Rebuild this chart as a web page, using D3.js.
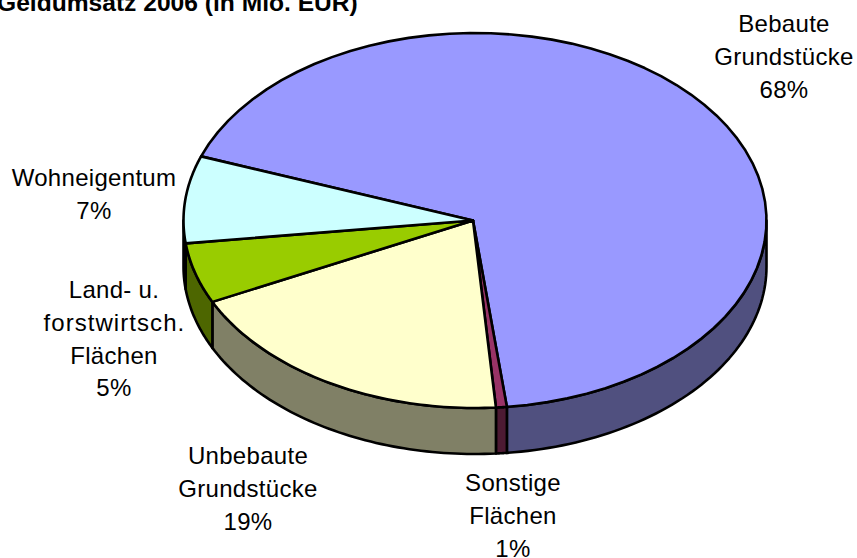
<!DOCTYPE html>
<html>
<head>
<meta charset="utf-8">
<script src="https://cdn.jsdelivr.net/npm/d3@7"></script>
<style>
  html, body { margin: 0; padding: 0; background: #fff; overflow: hidden; }
  text { font-family: "Liberation Sans", Arial, sans-serif; fill: #000; }
</style>
</head>
<body>
<script>
const chartTitle = "Geldumsatz 2006 (in Mio. EUR)";
const categories = ["Bebaute Grundstücke", "Sonstige Flächen", "Unbebaute Grundstücke", "Land- u. forstwirtsch. Flächen", "Wohneigentum"];
const values = [67.7, 0.6, 19, 5.2, 7.5];
const percentLabels = ["68%", "1%", "19%", "5%", "7%"];
const labelLines = [
    ["Bebaute", "Grundstücke"],
    ["Sonstige", "Flächen"],
    ["Unbebaute", "Grundstücke"],
    ["Land- u.", "forstwirtsch.", "Flächen"],
    ["Wohneigentum"]
];
const topColors = ["#9999ff", "#993366", "#ffffcc", "#99cc00", "#ccffff"];
const sideColors = ["#50507f", "#4d1a33", "#808066", "#4d6600", "#668080"];

const width = 857;
const height = 558;
const cx = 475, cy = 220.5, rx = 291.5, ry = 187.5, depth = 46;
const labelPos = [[784, 32], [513, 491], [248, 464], [114, 298], [94, 186]];
const lineGap = 32.8;
const startDeg = 290;

const svg = d3.select("body")
    .append("svg")
    .attr("width", width)
    .attr("height", height);

const pie = d3.pie()
    .sort(null)
    .startAngle(startDeg * Math.PI / 180)
    .endAngle((startDeg + 360) * Math.PI / 180);

const slices = pie(values);

const px = a => cx + rx * Math.sin(a);
const py = a => cy - ry * Math.cos(a);

// points along the rim of the ellipse
const rim = (a0, a1, off) => d3.range(0, 61).map(i => {
    const a = a0 + (a1 - a0) * i / 60;
    return [px(a), py(a) + off];
});

const line = d3.line();

// angles of the front half in all turns the pie passes through
const sideRange = (s) => {
    let out = null;
    [0, 2 * Math.PI].forEach(turn => {
        const a0 = Math.max(s.startAngle, Math.PI / 2 + turn);
        const a1 = Math.min(s.endAngle, 3 * Math.PI / 2 + turn);
        if (a1 > a0) out = [a0, a1];
    });
    return out;
};

const sides = slices.map((s, i) => ({ i: i, r: sideRange(s) })).filter(d => d.r);

svg.selectAll("path.side")
    .data(sides)
    .enter()
    .append("path")
    .attr("class", "side")
    .attr("d", d => line(rim(d.r[0], d.r[1], 0).concat(rim(d.r[1], d.r[0], depth))) + "Z")
    .attr("fill", d => sideColors[d.i])
    .attr("stroke", "#000")
    .attr("stroke-width", 2.6)
    .attr("stroke-linejoin", "round");

svg.selectAll("path.top")
    .data(slices)
    .enter()
    .append("path")
    .attr("class", "top")
    .attr("d", s => line([[cx - 2, cy]].concat(rim(s.startAngle, s.endAngle, 0))) + "Z")
    .attr("fill", (s, i) => topColors[i])
    .attr("stroke", "#000")
    .attr("stroke-width", 2.6)
    .attr("stroke-linejoin", "round");

svg.append("text")
    .attr("x", -3)
    .attr("y", 11)
    .attr("font-size", 24.6)
    .attr("font-weight", "bold")
    .text(chartTitle);

const labels = svg.selectAll("text.label")
    .data(categories)
    .enter()
    .append("text")
    .attr("class", "label")
    .attr("font-size", 24)
    .attr("letter-spacing", 0.3)
    .attr("text-anchor", "middle");

labels.each(function (c, i) {
    const lines = labelLines[i].concat(percentLabels[i]);
    d3.select(this).selectAll("tspan")
        .data(lines)
        .enter()
        .append("tspan")
        .attr("x", labelPos[i][0])
        .attr("y", (d, j) => labelPos[i][1] + j * lineGap)
        .text(d => d);
});

// this line is set wide in the original
labels.selectAll("tspan")
    .filter(d => d === "forstwirtsch.")
    .attr("textLength", 141)
    .attr("lengthAdjust", "spacing");
</script>
</body>
</html>
